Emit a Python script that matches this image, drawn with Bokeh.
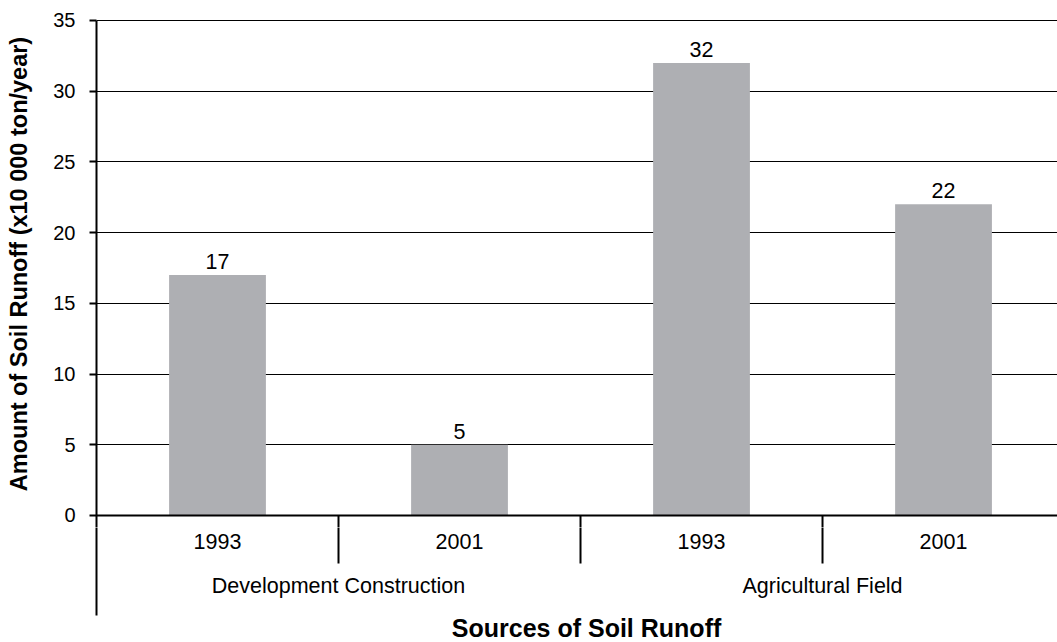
from bokeh.plotting import figure
from bokeh.models import FixedTicker, Range1d, ColumnDataSource
from bokeh.layouts import column
from bokeh.core.properties import value
from bokeh.embed import file_html
from bokeh.resources import INLINE

# ---- data ----
groups = ["Development Construction", "Agricultural Field"]
years = ["1993", "2001", "1993", "2001"]
values = [17, 5, 32, 22]
y_ticks = [0, 5, 10, 15, 20, 25, 30, 35]
y_title = "Amount of Soil Runoff (x10 000 ton/year)"
x_title = "Sources of Soil Runoff"

FONT = "Liberation Sans"
BAR = "#aeafb3"

n = len(years)
xc = [i + 0.5 for i in range(n)]
x_end = 3.971
sep_bottom = -3.39
split = -0.8485      # boundary between the two stacked panels
axis_bottom = -7.07  # lower end of the left axis line

src = ColumnDataSource(dict(x=xc, top=values, label=[str(v) for v in values], year=years))
seps = [i for i in range(1, n)]

# ---------------- top part: bars ----------------
p = figure(width=1057, height=527, output_backend="svg", toolbar_location=None,
           x_range=Range1d(0, x_end), y_range=Range1d(split, 36.414),
           min_border_left=96, min_border_right=0, min_border_top=0,
           min_border_bottom=0)
p.outline_line_color = None
p.xaxis.visible = False

p.yaxis.ticker = FixedTicker(ticks=y_ticks)
p.yaxis.bounds = (split, 35)
p.yaxis.minor_tick_line_color = None
p.yaxis.major_tick_out = 7
p.yaxis.major_tick_in = 0
p.yaxis.major_tick_line_width = 2
p.yaxis.axis_line_width = 2
p.yaxis.axis_line_color = "black"
p.yaxis.major_tick_line_color = "black"
p.yaxis.major_label_standoff = 14
p.yaxis.major_label_text_font = FONT
p.yaxis.major_label_text_font_size = "20px"
p.yaxis.major_label_text_color = "black"
p.yaxis.axis_label = y_title
p.yaxis.axis_label_standoff = 18
p.yaxis.axis_label_text_font = FONT
p.yaxis.axis_label_text_font_style = "bold"
p.yaxis.axis_label_text_font_size = "23.5px"
p.yaxis.axis_label_text_color = "black"

p.ygrid.ticker = FixedTicker(ticks=y_ticks[1:])
p.ygrid.grid_line_color = "black"
p.ygrid.grid_line_width = 1
p.xgrid.grid_line_color = None

p.vbar(x="x", top="top", bottom=0, width=0.4, source=src, fill_color=BAR, line_color=None)
p.text(x="x", y="top", text="label", source=src, text_align="center",
       text_baseline="bottom", y_offset=-6, text_font=value(FONT),
       text_font_size="21.5px", text_color="black")

p.segment(x0=[0], y0=[0], x1=[x_end], y1=[0], line_color="black", line_width=2)
p.segment(x0=seps, y0=[0] * len(seps), x1=seps, y1=[sep_bottom] * len(seps),
          line_color="black", line_width=2)

# ---------------- bottom part: category labels ----------------
q = figure(width=1057, height=115, output_backend="svg", toolbar_location=None,
           x_range=p.x_range, y_range=Range1d(-8.98, split),
           min_border_left=96, min_border_right=0, min_border_top=0,
           min_border_bottom=0)
q.outline_line_color = None
q.xgrid.grid_line_color = None
q.ygrid.grid_line_color = None
q.xaxis.visible = False

q.yaxis.ticker = FixedTicker(ticks=[])
q.yaxis.bounds = (axis_bottom, split)
q.yaxis.minor_tick_line_color = None
q.yaxis.major_tick_line_color = None
q.yaxis.axis_line_width = 2
q.yaxis.axis_line_color = "black"
q.yaxis.major_label_standoff = 0

q.segment(x0=seps, y0=[0] * len(seps), x1=seps, y1=[sep_bottom] * len(seps),
          line_color="black", line_width=2)

q.text(x="x", y=-1.87, text="year", source=src, text_align="center",
       text_baseline="middle", text_font=value(FONT), text_font_size="21.5px",
       text_color="black")

gx = [1 + 2 * i for i in range(len(groups))]
q.text(x=gx, y=[-5.02] * len(groups), text=groups, text_align="center",
       text_baseline="middle", text_font=value(FONT), text_font_size="21.5px",
       text_color="black")

q.text(x=[2.025], y=[-7.99], text=[x_title], text_align="center",
       text_baseline="middle", text_font=value(FONT), text_font_style="bold",
       text_font_size="25px", text_color="black")

layout = column(p, q, spacing=0)
open("out.html", "w").write(file_html(layout, INLINE))
